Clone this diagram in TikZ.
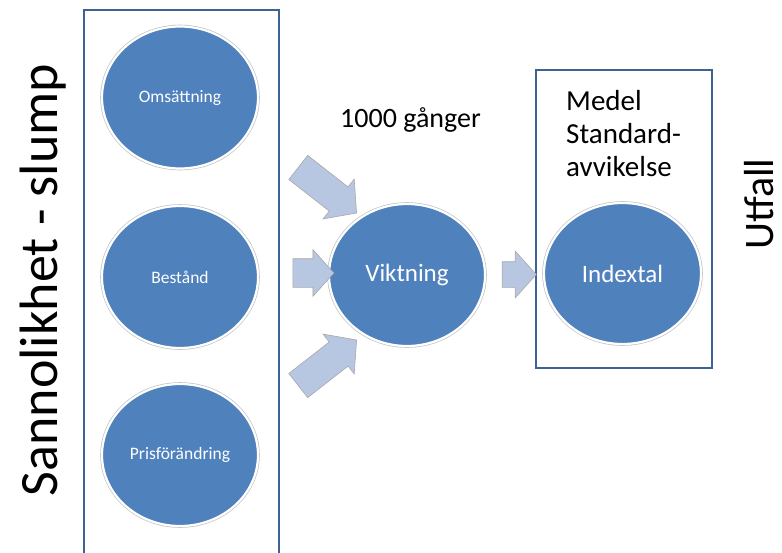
\documentclass[tikz,border=0pt]{standalone}
\usepackage{fontspec}
\setmainfont{Carlito}
\usetikzlibrary{shapes.geometric,shapes.arrows}
\definecolor{cblue}{HTML}{4F81BD}
\definecolor{boxblue}{HTML}{3F6294}
\definecolor{arrfill}{HTML}{B7C6E1}
\definecolor{arrline}{HTML}{A8A8A8}
\tikzset{
  bubble/.style={ellipse, fill=cblue, draw=white, line width=2.2pt,
    preaction={draw=arrline!70, line width=3.6pt},
    minimum width=156pt, minimum height=142pt, inner sep=0pt,
    text=white},
  frame/.style={draw=boxblue, line width=2.6pt},
  blockarrow/.style={single arrow, fill=arrfill, draw=arrline, line width=0.6pt,
    inner xsep=0pt, single arrow tip angle=96},
}
\begin{document}
\begin{tikzpicture}[x=1pt,y=1pt]
\useasboundingbox (0,0) rectangle (782,-552);
% frames
\draw[frame] (84,-558) |- (279,-10) -- (279,-558);
\draw[frame] (536,-70) rectangle (712,-368);
% circles
\node[bubble, font=\fontsize{17.5}{20}\selectfont] (oms) at (180,-97.5) {Omsättning};
\node[bubble, font=\fontsize{17.5}{20}\selectfont] (best) at (180,-277) {Bestånd};
\node[bubble, font=\fontsize{17.5}{20}\selectfont] (pris) at (180,-455) {Prisförändring};
\node[bubble, font=\fontsize{25}{30}\selectfont] (vikt) at (407,-275) {\raisebox{-2pt}{Viktning}};
\node[bubble, font=\fontsize{25}{30}\selectfont, minimum width=157pt, minimum height=141pt] (idx) at (622.5,-273.5) {Indextal};
% block arrows
\node[blockarrow, minimum height=74pt, inner ysep=15pt, single arrow head extend=10pt, rotate=-38] (a1) at (322,-186) {};
\node[blockarrow, minimum height=41pt, inner ysep=14pt, single arrow head extend=9pt] (a2) at (307,-273) {};
\node[blockarrow, minimum height=74pt, inner ysep=15pt, single arrow head extend=10pt, rotate=38] (a3) at (322,-367) {};
\node[blockarrow, minimum height=34pt, inner ysep=12.5pt, single arrow head extend=10.5pt] (a4) at (513.5,-274.5) {};
% texts
\node[font=\fontsize{28}{32}\selectfont, inner sep=0pt, anchor=base] (times) at (410.5,-127) {1000 gånger};
\node[font=\fontsize{29}{33}\selectfont, inner sep=0pt, anchor=north west, align=left] (stats) at (566,-90) {Medel\\Standard-\\avvikelse};
\node[font=\fontsize{54}{60}\selectfont, inner sep=0pt, rotate=90, anchor=base] (slump) at (57,-280) {Sannolikhet - slump};
\node[font=\fontsize{42}{48}\selectfont, inner sep=0pt, rotate=90, anchor=base] (utfall) at (773,-204) {Utfall};
\end{tikzpicture}
\end{document}
